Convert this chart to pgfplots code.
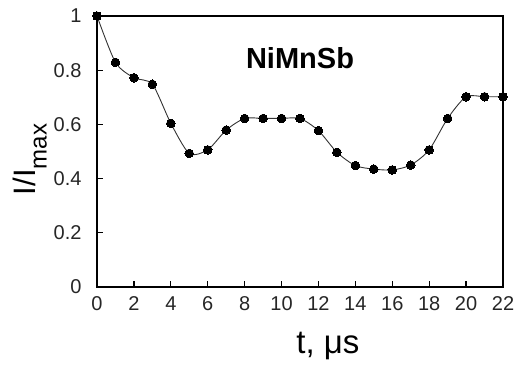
\documentclass[border=0pt]{standalone}
\usepackage{pgfplots}
\pgfplotsset{compat=1.18}
\usepackage{fontspec}
\setmainfont{Liberation Sans}
\begin{document}
\begin{tikzpicture}
\begin{axis}[
  scale only axis,
  width=406pt, height=271pt,
  xmin=0, xmax=22, ymin=0, ymax=1,
  xtick={0,2,...,22},
  ytick={0,0.2,0.4,0.6,0.8,1},
  xtick pos=bottom, ytick pos=left,
  tick align=inside,
  major tick length=6pt,
  tick style={line width=1.2pt, black},
  axis line style={line width=1.6pt},
  /pgf/number format/assume math mode=true,
  tick label style={font=\fontsize{20}{22}\selectfont, text=black!85},
  xticklabel style={yshift=-6pt},
  yticklabel style={xshift=-12pt},
  xlabel={t, μs},
  ylabel={I/I\raisebox{-0.35em}{\fontsize{24}{26}\selectfont max}},
  xlabel style={font=\fontsize{33}{36}\selectfont, at={(axis description cs:0.5,0)}, anchor=center, yshift=-59pt, xshift=28pt},
  ylabel style={font=\fontsize{31}{34}\selectfont, at={(axis description cs:0,0.5)}, anchor=center, yshift=67pt, xshift=-8pt},
  clip=false,
]
\addplot[black!80, line width=0.9pt, smooth, tension=0.45, mark=*, mark size=4.3pt, mark options={fill=black, draw=black, line width=0pt}]
coordinates {
(0,1.0) (1,0.829) (2,0.772) (3,0.748) (4,0.604) (5,0.493) (6,0.506) (7,0.579)
(8,0.622) (9,0.622) (10,0.622) (11,0.622) (12,0.577) (13,0.497) (14,0.448)
(15,0.435) (16,0.432) (17,0.450) (18,0.506) (19,0.622) (20,0.702) (21,0.702) (22,0.702)
};
\node[font=\fontsize{29}{31}\selectfont\bfseries] at (axis cs:11.0,0.845) {NiMnSb};
\coordinate (bl) at (rel axis cs:0,0);
\coordinate (tr) at (rel axis cs:1,1);
\end{axis}
\pgfresetboundingbox
\path ([xshift=-97pt,yshift=-84pt]bl) rectangle ([xshift=13pt,yshift=16pt]tr);
\end{tikzpicture}
\end{document}
